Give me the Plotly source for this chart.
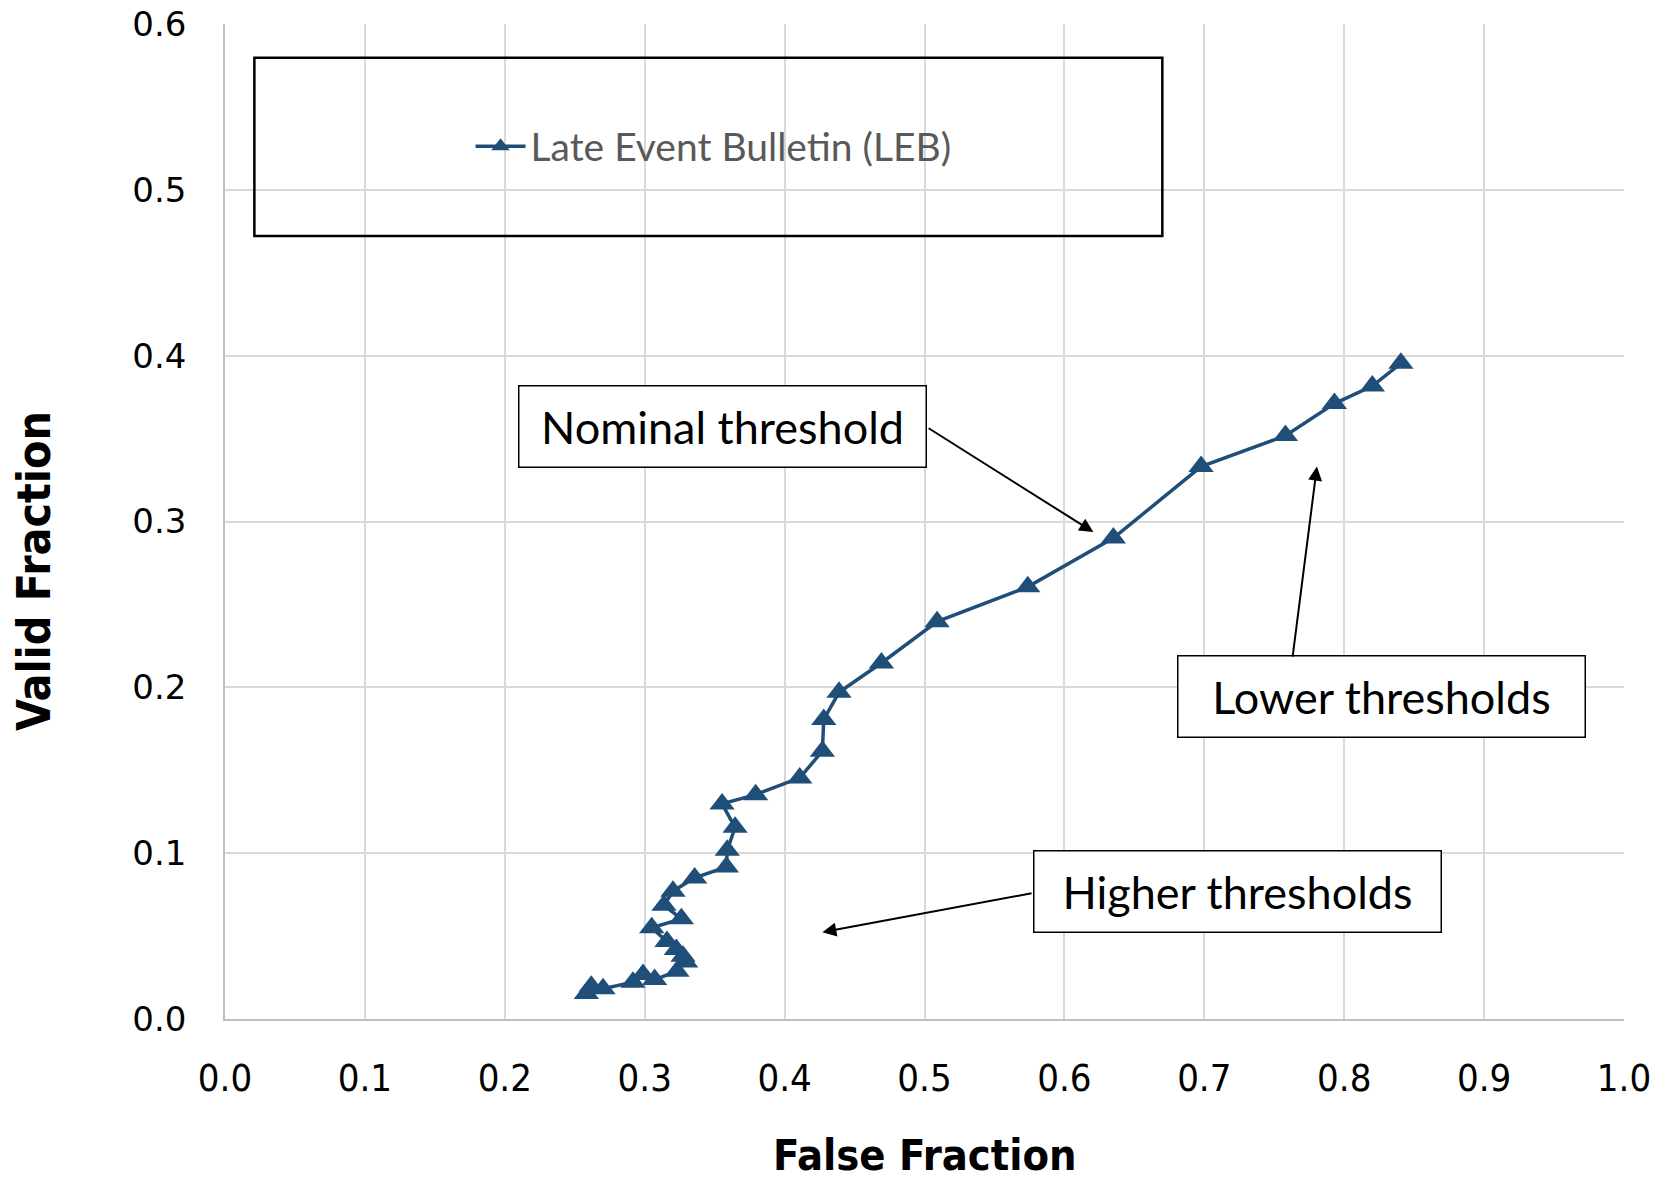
import plotly.graph_objects as go

false_fraction = [0.8405, 0.8201, 0.7930, 0.7580, 0.6977, 0.6350, 0.5738, 0.5090, 0.4692, 0.4389,
                  0.4280, 0.4270, 0.4108, 0.3793, 0.3553, 0.3646, 0.3590, 0.3584, 0.3357, 0.3202,
                  0.3138, 0.3262, 0.3050, 0.3159, 0.3226, 0.3274, 0.3293, 0.3231, 0.3071, 0.2988,
                  0.2916, 0.2702, 0.2618, 0.2583]
valid_fraction = [0.3954, 0.3817, 0.3711, 0.3518, 0.3331, 0.2900, 0.2606, 0.2396, 0.2147, 0.1970,
                  0.1806, 0.1615, 0.1454, 0.1353, 0.1297, 0.1156, 0.1018, 0.0917, 0.0851, 0.0771,
                  0.0686, 0.0604, 0.0550, 0.0467, 0.0419, 0.0379, 0.0343, 0.0288, 0.0238, 0.0268,
                  0.0222, 0.0182, 0.0198, 0.0154]
series_name = "Late Event Bulletin (LEB)"
x_ticks = [0.0, 0.1, 0.2, 0.3, 0.4, 0.5, 0.6, 0.7, 0.8, 0.9, 1.0]
y_ticks = [0.0, 0.1, 0.2, 0.3, 0.4, 0.5, 0.6]

BLUE = "#1f4e79"
W, H = 1660, 1179
ML, MR, MT, MB = 225, 36, 24, 160
COND = "DejaVu Sans Condensed, Roboto, sans-serif"

fig = go.Figure()
fig.add_trace(go.Scatter(
    x=false_fraction, y=valid_fraction, mode="lines+markers", name=series_name,
    line=dict(color=BLUE, width=3.5),
    marker=dict(symbol="triangle-up", size=22, color=BLUE),
))

grid = "#d9d9d9"
fig.update_xaxes(range=[0, 1], tickvals=x_ticks, ticktext=[f"{v:.1f}" for v in x_ticks],
                 showgrid=True, gridcolor=grid, gridwidth=1.5, zeroline=False, automargin=False,
                 showline=True, linecolor="#bfbfbf", linewidth=2, ticks="",
                 ticklabelstandoff=24,
                 tickfont=dict(family=COND, size=38, color="black"))
fig.update_yaxes(range=[0, 0.6], tickvals=y_ticks, ticktext=[f"{v:.1f}" for v in y_ticks],
                 showgrid=True, gridcolor=grid, gridwidth=1.5, zeroline=False, automargin=False,
                 showline=True, linecolor="#bfbfbf", linewidth=1.5, ticks="",
                 ticklabelstandoff=30,
                 tickfont=dict(family="DejaVu Sans", size=34, color="black"))

annotations = []
# axis titles
annotations.append(dict(text="<b>False Fraction</b>", xref="paper", yref="paper", x=0.5, y=-0.137,
                        xanchor="center", yanchor="middle", showarrow=False,
                        font=dict(family=COND, size=43, color="black")))
annotations.append(dict(text="<b>Valid Fraction</b>", xref="paper", yref="paper", x=-0.136, y=0.45,
                        xanchor="center", yanchor="middle", showarrow=False, textangle=-90,
                        font=dict(family=COND, size=46, color="black")))

box_font = dict(family="Lato", size=45, color="black")
boxes = [("Nominal threshold", 0.3558, 0.3571),
         ("Lower thresholds", 0.8266, 0.1943),
         ("Higher thresholds", 0.7237, 0.0766)]
for txt, bx, by in boxes:
    annotations.append(dict(text=txt, x=bx, y=by, xref="x", yref="y", showarrow=False,
                            width=402, height=76, bordercolor="black", borderwidth=1.5,
                            borderpad=2, bgcolor="white", font=box_font, align="center"))

arrows = [(0.6207, 0.2936, 0.5019, 0.3568),
          (0.7805, 0.3331, 0.7630, 0.2176),
          (0.4270, 0.0523, 0.5776, 0.0760)]
for hx, hy, tx, ty in arrows:
    annotations.append(dict(text="", x=hx, y=hy, ax=tx, ay=ty, xref="x", yref="y",
                            axref="x", ayref="y", showarrow=True, arrowhead=2,
                            arrowsize=1.4, arrowwidth=2, arrowcolor="black"))

fig.update_layout(
    width=W, height=H, margin=dict(l=ML, r=MR, t=MT, b=MB, autoexpand=False),
    paper_bgcolor="white", plot_bgcolor="white",
    annotations=annotations,
    shapes=[dict(type="rect", xref="paper", yref="paper", x0=0.021, x1=0.670, y0=0.787, y1=0.966,
                 line=dict(color="black", width=2.5), fillcolor="rgba(0,0,0,0)", layer="above")],
    showlegend=True,
    legend=dict(x=0.1755, y=0.877, xanchor="left", yanchor="middle", bgcolor="rgba(0,0,0,0)",
                borderwidth=0, font=dict(family="Lato", size=39, color="#595959"), itemwidth=50),
)

fig.write_html("out.html", config={"displayModeBar": False},
               post_script="document.body.style.margin='0';document.body.style.padding='0';"
                           "document.documentElement.style.overflow='hidden';")
